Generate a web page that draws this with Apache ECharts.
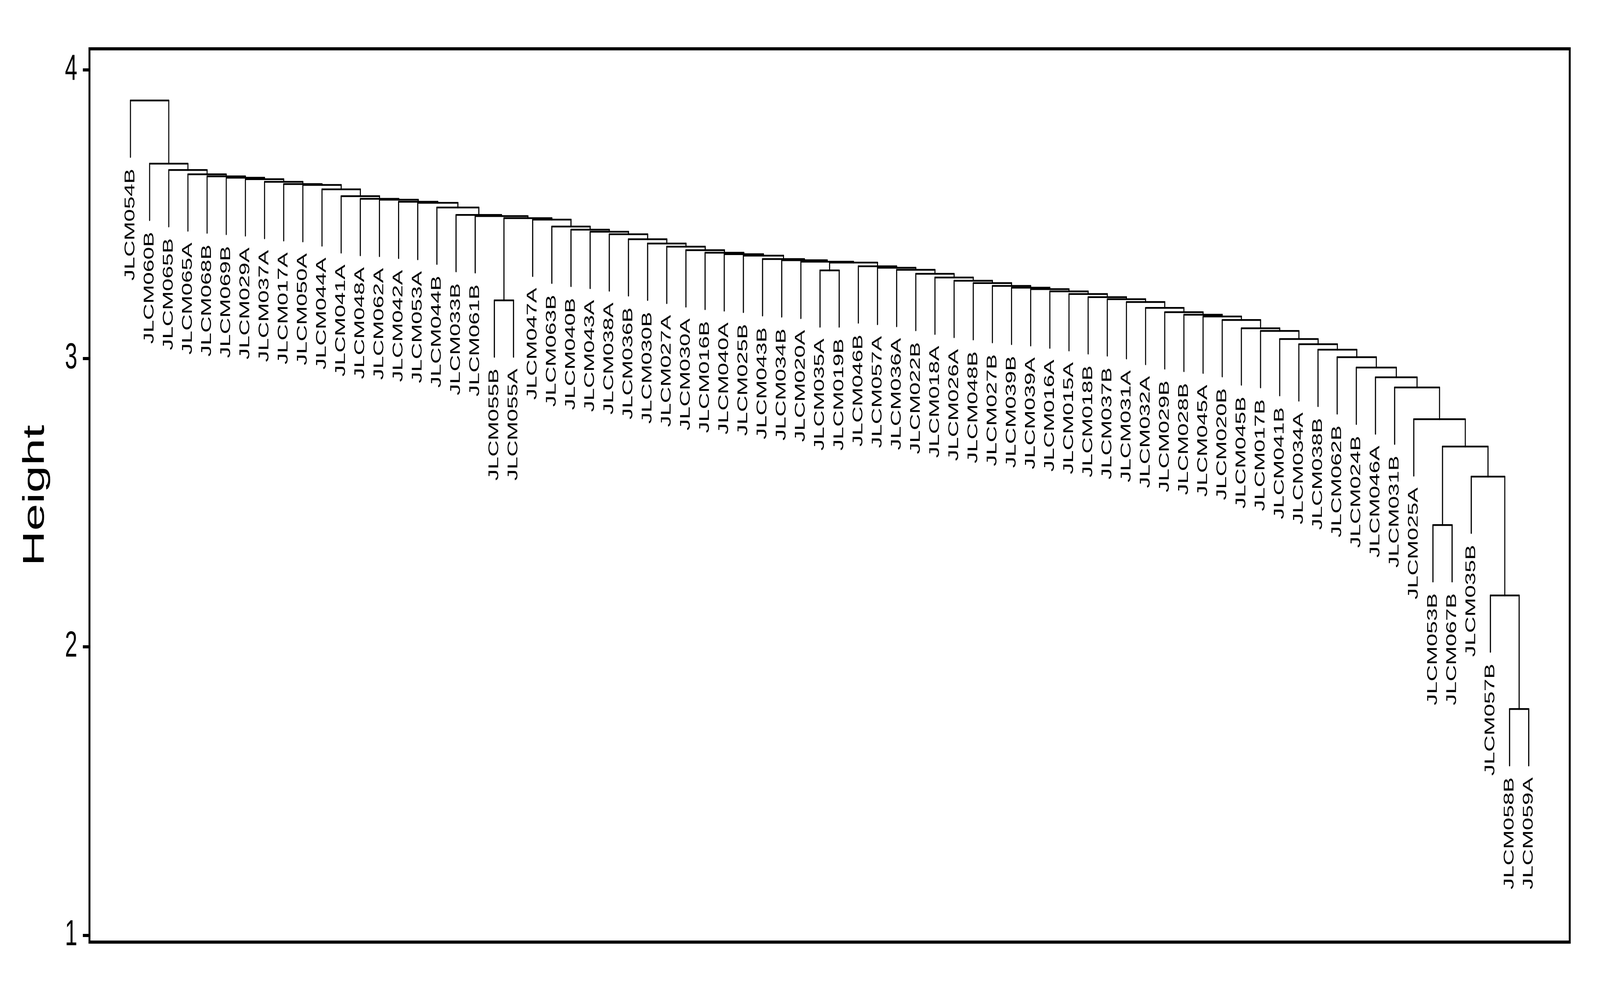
<!DOCTYPE html>
<html><head><meta charset="utf-8">
<script src="https://cdn.jsdelivr.net/npm/echarts@6/dist/echarts.min.js"></script>
<style>html,body{margin:0;padding:0;background:#fff;overflow:hidden}#c{width:6600px;height:2550px;transform-origin:0 0}</style>
</head><body><div id="c"></div>
<script>
// Leaf labels in dendrogram order (left to right)
const labels = ["JLCM054B","JLCM060B","JLCM065B","JLCM065A","JLCM068B","JLCM069B","JLCM029A","JLCM037A","JLCM017A","JLCM050A",
"JLCM044A","JLCM041A","JLCM048A","JLCM062A","JLCM042A","JLCM053A","JLCM044B","JLCM033B","JLCM061B","JLCM055B",
"JLCM055A","JLCM047A","JLCM063B","JLCM040B","JLCM043A","JLCM038A","JLCM036B","JLCM030B","JLCM027A","JLCM030A",
"JLCM016B","JLCM040A","JLCM025B","JLCM043B","JLCM034B","JLCM020A","JLCM035A","JLCM019B","JLCM046B","JLCM057A",
"JLCM036A","JLCM022B","JLCM018A","JLCM026A","JLCM048B","JLCM027B","JLCM039B","JLCM039A","JLCM016A","JLCM015A",
"JLCM018B","JLCM037B","JLCM031A","JLCM032A","JLCM029B","JLCM028B","JLCM045A","JLCM020B","JLCM045B","JLCM017B",
"JLCM041B","JLCM034A","JLCM038B","JLCM062B","JLCM024B","JLCM046A","JLCM031B","JLCM025A","JLCM053B","JLCM067B",
"JLCM035B","JLCM057B","JLCM058B","JLCM059A"];

// Merge table (R hclust style): negative = leaf position (1-based), positive = earlier merge (1-based)
const mergeLeft = [-73,-72,-69,-71,3,-68,-67,-66,-65,-64,-63,-62,-61,-60,-59,-58,-57,-56,-55,-54,
-53,-20,-52,-51,-50,-49,-48,-47,-46,-45,-44,-43,-42,-37,-41,-40,-39,34,-36,-35,
-34,-33,-32,-31,-30,-29,-28,-27,-26,-25,-24,-23,-22,22,-19,-18,-17,-16,-15,-14,
-13,-12,-11,-10,-9,-8,-7,-6,-5,-4,-3,-2,-1];
const mergeRight = [-74,1,-70,2,4,5,6,7,8,9,10,11,12,13,14,15,16,17,18,19,
20,-21,21,23,24,25,26,27,28,29,30,31,32,-38,33,35,36,37,38,39,
40,41,42,43,44,45,46,47,48,49,50,51,52,53,54,55,56,57,58,59,
60,61,62,63,64,65,66,67,68,69,70,71,72];
const mergeHeight = [1.784,2.178,2.422,2.590,2.694,2.789,2.899,2.934,2.968,3.004,
3.030,3.049,3.067,3.095,3.104,3.133,3.145,3.151,3.160,3.175,
3.195,3.201,3.205,3.212,3.223,3.232,3.240,3.245,3.251,3.261,
3.269,3.280,3.293,3.305,3.307,3.314,3.319,3.332,3.335,3.340,
3.344,3.356,3.361,3.366,3.375,3.387,3.398,3.413,3.430,3.439,
3.446,3.457,3.481,3.486,3.493,3.497,3.523,3.539,3.543,3.550,
3.553,3.562,3.586,3.601,3.604,3.612,3.621,3.626,3.631,3.638,
3.653,3.675,3.894];

const yTicks = [1, 2, 3, 4];
const hang = 0.196;

// Build dendrogram segments from the merge table
const nodeX = [], nodeY = [];
const segs = [];
const leafPts = [], leafNames = [];
function child(c, h) {
  if (c < 0) {
    const i = -c;
    const yb = h - hang;
    leafPts.push([i, yb]);
    leafNames.push(labels[i - 1]);
    return [i, yb];
  }
  return [nodeX[c - 1], nodeY[c - 1]];
}
for (let k = 0; k < mergeHeight.length; k++) {
  const h = mergeHeight[k];
  const L = child(mergeLeft[k], h);
  const R = child(mergeRight[k], h);
  segs.push([L[0], L[1], L[0], h]);
  segs.push([L[0], h, R[0], h]);
  segs.push([R[0], h, R[0], R[1]]);
  nodeX.push((L[0] + R[0]) / 2);
  nodeY.push(h);
}

// The design is 6600x2550; fit it into whatever viewport the browser has.
const W = 6600, H = 2550;
const box = document.getElementById('c');
box.style.transform = 'scale(' + (window.innerWidth / W) + ',' + (window.innerHeight / H) + ')';

const FONT = "'Liberation Sans', Arial, Helvetica, sans-serif";
const chart = echarts.init(box, null, {renderer: 'canvas', width: W, height: H});
chart.setOption({
  animation: false,
  backgroundColor: '#ffffff',
  grid: {left: 369, right: 125, top: 125, bottom: 138, show: true, borderColor: '#000', borderWidth: 8, backgroundColor: 'transparent'},
  xAxis: {type: 'value', min: -1.14, max: 76.14, show: false},
  yAxis: {
    type: 'value', min: 0.976, max: 4.073,
    name: 'Height', nameLocation: 'middle', nameGap: 160, nameRotate: 90,
    nameTextStyle: {fontFamily: FONT, fontSize: 125, color: '#000'},
    axisLine: {show: false, onZero: false},
    axisTick: {show: true, length: 27, lineStyle: {color: '#000', width: 8}, customValues: yTicks},
    axisLabel: {show: true, margin: 50, fontFamily: FONT, fontSize: 92, color: '#000', customValues: yTicks},
    splitLine: {show: false}
  },
  series: [
    {
      type: 'custom', silent: true, clip: false,
      data: segs, encode: {x: [0, 2], y: [1, 3]},
      renderItem: function (p, api) {
        const a = api.coord([api.value(0), api.value(1)]);
        const b = api.coord([api.value(2), api.value(3)]);
        return {type: 'line', shape: {x1: a[0], y1: a[1], x2: b[0], y2: b[1]},
          style: {stroke: '#000', lineWidth: 4.5, lineCap: 'round'}};
      }
    },
    {
      type: 'custom', silent: true, clip: false,
      data: leafPts, encode: {x: 0, y: 1},
      renderItem: function (p, api) {
        const a = api.coord([api.value(0), api.value(1)]);
        return {type: 'text', x: a[0], y: a[1] + 30, rotation: Math.PI / 2,
          style: {text: leafNames[p.dataIndex], font: '58px ' + FONT, fill: '#000',
            align: 'right', verticalAlign: 'middle', textAlign: 'right', textVerticalAlign: 'middle'}};
      }
    }
  ]
});
</script>
</body></html>
